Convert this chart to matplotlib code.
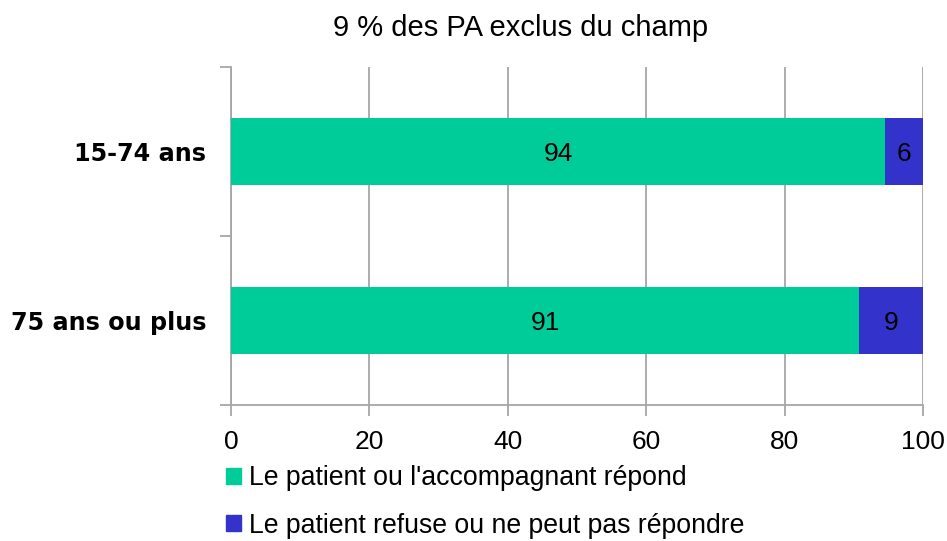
import matplotlib
matplotlib.use("Agg")
import matplotlib.pyplot as plt
from matplotlib.patches import Patch

categories = ["15-74 ans", "75 ans ou plus"]
repond = [94.5, 90.8]
refuse = [5.5, 9.2]
repond_labels = ["94", "91"]
refuse_labels = ["6", "9"]
series_names = ["Le patient ou l'accompagnant répond",
                "Le patient refuse ou ne peut pas répondre"]
xticks = [0, 20, 40, 60, 80, 100]
title = "9 % des PA exclus du champ"

GREEN = "#00CC99"
BLUE = "#3333CC"
GRID = "#A6A6A6"
FONT = ["Liberation Sans", "DejaVu Sans"]

fig = plt.figure(figsize=(9.47, 5.41), dpi=100)
ax = fig.add_axes([231/947, 1-405/541, 692/947, 338/541])

y = list(range(len(categories)))
ax.barh(y, repond, height=0.4, color=GREEN, zorder=3)
ax.barh(y, refuse, left=repond, height=0.4, color=BLUE, zorder=3)

for i in y:
    ax.text(repond[i]/2, i, repond_labels[i], ha="center", va="center_baseline",
            fontsize=19, family=FONT, zorder=4)
    ax.text(repond[i] + refuse[i]/2, i, refuse_labels[i], ha="center",
            va="center_baseline", fontsize=19, family=FONT, zorder=4)

ax.set_xlim(0, 100)
ax.set_ylim(len(categories)-0.5, -0.5)
ax.set_xticks(xticks)
ax.set_xticklabels([str(t) for t in xticks], fontsize=19, family=FONT)
ax.grid(axis="x", color=GRID, linewidth=1.3, zorder=0)

ax.set_yticks([i - 0.5 for i in range(len(categories)+1)])
ax.set_yticklabels([])
ax.set_yticks(y, minor=True)
ax.set_yticklabels(categories, minor=True, fontsize=17.2, fontweight="bold",
                   family="DejaVu Sans")
ax.tick_params(axis="y", which="minor", length=0, pad=18)
ax.tick_params(axis="y", which="major", length=8, color=GRID, width=1.3)
ax.tick_params(axis="x", length=8, color=GRID, width=1.3, pad=10)

for s in ["top", "right"]:
    ax.spines[s].set_visible(False)
for s in ["left", "bottom"]:
    ax.spines[s].set_color(GRID)
    ax.spines[s].set_linewidth(1.3)

fig.text(521/947, 1-28/541, title, ha="center", va="center", fontsize=21, family=FONT)

handles = [Patch(color=GREEN), Patch(color=BLUE)]
leg = fig.legend(handles, series_names, loc="upper left",
                 bbox_to_anchor=(226/947, 1-465/541), frameon=False,
                 prop={"family": FONT, "size": 19.2},
                 handlelength=0.55, handleheight=0.55, handletextpad=0.3,
                 labelspacing=0.82, borderpad=0, borderaxespad=0)

fig.savefig("out.png", dpi=100)
